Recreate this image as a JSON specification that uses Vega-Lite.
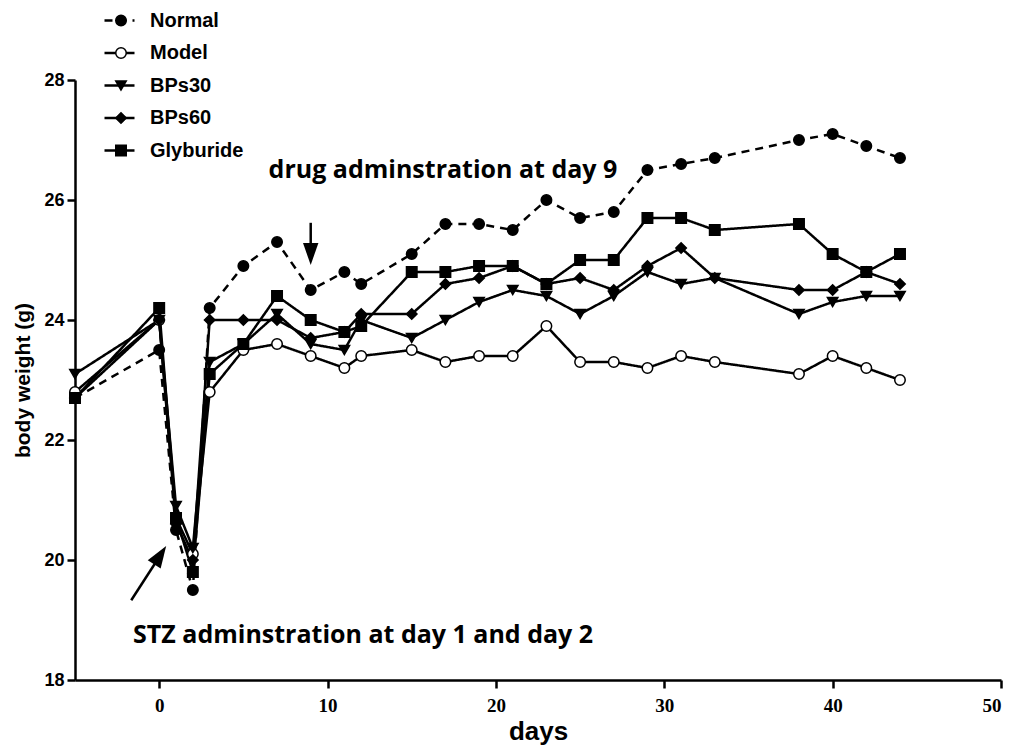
{
  "$schema": "https://vega.github.io/schema/vega-lite/v6.json",
  "width": 926,
  "height": 600,
  "autosize": {"type": "none"},
  "padding": {"left": 75, "top": 80, "right": 13, "bottom": 67},
  "background": "white",
  "config": {
    "view": {"stroke": null},
    "font": "Liberation Sans",
    "axis": {"grid": false, "domainColor": "black", "domainWidth": 2.5, "tickColor": "black", "tickWidth": 2.5, "tickSize": 8, "labelColor": "black", "titleColor": "black", "labelFontWeight": "bold", "titleFontWeight": "bold"},
    "axisX": {"labelFont": "Liberation Sans Narrow", "labelFontSize": 19, "labelPadding": 8, "titleFontSize": 26, "titlePadding": 3, "titleFont": "Liberation Sans"},
    "axisY": {"labelFont": "Liberation Sans", "labelFontSize": 18, "labelPadding": 3, "titleFontSize": 21, "titlePadding": 10, "titleFont": "Liberation Sans"}
  },
  "datasets": {
    "weights": [
      {"day": -5, "weight": 22.7, "group": "Normal"},
      {"day": 0, "weight": 23.5, "group": "Normal"},
      {"day": 1, "weight": 20.5, "group": "Normal"},
      {"day": 2, "weight": 19.5, "group": "Normal"},
      {"day": 3, "weight": 24.2, "group": "Normal"},
      {"day": 5, "weight": 24.9, "group": "Normal"},
      {"day": 7, "weight": 25.3, "group": "Normal"},
      {"day": 9, "weight": 24.5, "group": "Normal"},
      {"day": 11, "weight": 24.8, "group": "Normal"},
      {"day": 12, "weight": 24.6, "group": "Normal"},
      {"day": 15, "weight": 25.1, "group": "Normal"},
      {"day": 17, "weight": 25.6, "group": "Normal"},
      {"day": 19, "weight": 25.6, "group": "Normal"},
      {"day": 21, "weight": 25.5, "group": "Normal"},
      {"day": 23, "weight": 26.0, "group": "Normal"},
      {"day": 25, "weight": 25.7, "group": "Normal"},
      {"day": 27, "weight": 25.8, "group": "Normal"},
      {"day": 29, "weight": 26.5, "group": "Normal"},
      {"day": 31, "weight": 26.6, "group": "Normal"},
      {"day": 33, "weight": 26.7, "group": "Normal"},
      {"day": 38, "weight": 27.0, "group": "Normal"},
      {"day": 40, "weight": 27.1, "group": "Normal"},
      {"day": 42, "weight": 26.9, "group": "Normal"},
      {"day": 44, "weight": 26.7, "group": "Normal"},
      {"day": -5, "weight": 22.8, "group": "Model"},
      {"day": 0, "weight": 24.0, "group": "Model"},
      {"day": 1, "weight": 20.7, "group": "Model"},
      {"day": 2, "weight": 20.1, "group": "Model"},
      {"day": 3, "weight": 22.8, "group": "Model"},
      {"day": 5, "weight": 23.5, "group": "Model"},
      {"day": 7, "weight": 23.6, "group": "Model"},
      {"day": 9, "weight": 23.4, "group": "Model"},
      {"day": 11, "weight": 23.2, "group": "Model"},
      {"day": 12, "weight": 23.4, "group": "Model"},
      {"day": 15, "weight": 23.5, "group": "Model"},
      {"day": 17, "weight": 23.3, "group": "Model"},
      {"day": 19, "weight": 23.4, "group": "Model"},
      {"day": 21, "weight": 23.4, "group": "Model"},
      {"day": 23, "weight": 23.9, "group": "Model"},
      {"day": 25, "weight": 23.3, "group": "Model"},
      {"day": 27, "weight": 23.3, "group": "Model"},
      {"day": 29, "weight": 23.2, "group": "Model"},
      {"day": 31, "weight": 23.4, "group": "Model"},
      {"day": 33, "weight": 23.3, "group": "Model"},
      {"day": 38, "weight": 23.1, "group": "Model"},
      {"day": 40, "weight": 23.4, "group": "Model"},
      {"day": 42, "weight": 23.2, "group": "Model"},
      {"day": 44, "weight": 23.0, "group": "Model"},
      {"day": -5, "weight": 23.1, "group": "BPs30"},
      {"day": 0, "weight": 24.0, "group": "BPs30"},
      {"day": 1, "weight": 20.9, "group": "BPs30"},
      {"day": 2, "weight": 20.2, "group": "BPs30"},
      {"day": 3, "weight": 23.3, "group": "BPs30"},
      {"day": 5, "weight": 23.6, "group": "BPs30"},
      {"day": 7, "weight": 24.1, "group": "BPs30"},
      {"day": 9, "weight": 23.6, "group": "BPs30"},
      {"day": 11, "weight": 23.5, "group": "BPs30"},
      {"day": 12, "weight": 24.0, "group": "BPs30"},
      {"day": 15, "weight": 23.7, "group": "BPs30"},
      {"day": 17, "weight": 24.0, "group": "BPs30"},
      {"day": 19, "weight": 24.3, "group": "BPs30"},
      {"day": 21, "weight": 24.5, "group": "BPs30"},
      {"day": 23, "weight": 24.4, "group": "BPs30"},
      {"day": 25, "weight": 24.1, "group": "BPs30"},
      {"day": 27, "weight": 24.4, "group": "BPs30"},
      {"day": 29, "weight": 24.8, "group": "BPs30"},
      {"day": 31, "weight": 24.6, "group": "BPs30"},
      {"day": 33, "weight": 24.7, "group": "BPs30"},
      {"day": 38, "weight": 24.1, "group": "BPs30"},
      {"day": 40, "weight": 24.3, "group": "BPs30"},
      {"day": 42, "weight": 24.4, "group": "BPs30"},
      {"day": 44, "weight": 24.4, "group": "BPs30"},
      {"day": -5, "weight": 22.7, "group": "BPs60"},
      {"day": 0, "weight": 24.0, "group": "BPs60"},
      {"day": 1, "weight": 20.6, "group": "BPs60"},
      {"day": 2, "weight": 20.0, "group": "BPs60"},
      {"day": 3, "weight": 24.0, "group": "BPs60"},
      {"day": 5, "weight": 24.0, "group": "BPs60"},
      {"day": 7, "weight": 24.0, "group": "BPs60"},
      {"day": 9, "weight": 23.7, "group": "BPs60"},
      {"day": 11, "weight": 23.8, "group": "BPs60"},
      {"day": 12, "weight": 24.1, "group": "BPs60"},
      {"day": 15, "weight": 24.1, "group": "BPs60"},
      {"day": 17, "weight": 24.6, "group": "BPs60"},
      {"day": 19, "weight": 24.7, "group": "BPs60"},
      {"day": 21, "weight": 24.9, "group": "BPs60"},
      {"day": 23, "weight": 24.6, "group": "BPs60"},
      {"day": 25, "weight": 24.7, "group": "BPs60"},
      {"day": 27, "weight": 24.5, "group": "BPs60"},
      {"day": 29, "weight": 24.9, "group": "BPs60"},
      {"day": 31, "weight": 25.2, "group": "BPs60"},
      {"day": 33, "weight": 24.7, "group": "BPs60"},
      {"day": 38, "weight": 24.5, "group": "BPs60"},
      {"day": 40, "weight": 24.5, "group": "BPs60"},
      {"day": 42, "weight": 24.8, "group": "BPs60"},
      {"day": 44, "weight": 24.6, "group": "BPs60"},
      {"day": -5, "weight": 22.7, "group": "Glyburide"},
      {"day": 0, "weight": 24.2, "group": "Glyburide"},
      {"day": 1, "weight": 20.7, "group": "Glyburide"},
      {"day": 2, "weight": 19.8, "group": "Glyburide"},
      {"day": 3, "weight": 23.1, "group": "Glyburide"},
      {"day": 5, "weight": 23.6, "group": "Glyburide"},
      {"day": 7, "weight": 24.4, "group": "Glyburide"},
      {"day": 9, "weight": 24.0, "group": "Glyburide"},
      {"day": 11, "weight": 23.8, "group": "Glyburide"},
      {"day": 12, "weight": 23.9, "group": "Glyburide"},
      {"day": 15, "weight": 24.8, "group": "Glyburide"},
      {"day": 17, "weight": 24.8, "group": "Glyburide"},
      {"day": 19, "weight": 24.9, "group": "Glyburide"},
      {"day": 21, "weight": 24.9, "group": "Glyburide"},
      {"day": 23, "weight": 24.6, "group": "Glyburide"},
      {"day": 25, "weight": 25.0, "group": "Glyburide"},
      {"day": 27, "weight": 25.0, "group": "Glyburide"},
      {"day": 29, "weight": 25.7, "group": "Glyburide"},
      {"day": 31, "weight": 25.7, "group": "Glyburide"},
      {"day": 33, "weight": 25.5, "group": "Glyburide"},
      {"day": 38, "weight": 25.6, "group": "Glyburide"},
      {"day": 40, "weight": 25.1, "group": "Glyburide"},
      {"day": 42, "weight": 24.8, "group": "Glyburide"},
      {"day": 44, "weight": 25.1, "group": "Glyburide"}
    ]
  },
  "layer": [
    {
      "data": {"name": "weights"},
      "mark": {"type": "line", "color": "black", "strokeWidth": 2.5},
      "encoding": {
        "x": {"field": "day", "type": "quantitative", "scale": {"domain": [-5, 50], "nice": false, "zero": false},
          "axis": {"title": "days", "values": [0, 10, 20, 30, 40, 50], "format": "d"}},
        "y": {"field": "weight", "type": "quantitative", "scale": {"domain": [18, 28], "nice": false, "zero": false},
          "axis": {"title": "body weight (g)", "values": [18, 20, 22, 24, 26, 28], "format": "d"}},
        "detail": {"field": "group"},
        "strokeDash": {"field": "group", "type": "nominal", "sort": ["Normal", "Model", "BPs30", "BPs60", "Glyburide"],
          "scale": {"range": [[8, 6], [1, 0], [1, 0], [1, 0], [1, 0]]},
          "legend": {"orient": "none", "legendX": 28, "legendY": -68, "title": null, "padding": 0, "symbolType": "stroke", "symbolSize": 900, "symbolStrokeWidth": 2.5, "symbolStrokeColor": "black", "labelFontSize": 20, "labelFont": "Liberation Sans", "labelFontWeight": "bold", "labelColor": "black", "labelOffset": 14, "rowPadding": 11.5, "clipHeight": 17}}
      }
    },
    {
      "data": {"name": "weights"},
      "mark": {"type": "point", "filled": true, "strokeWidth": 1.5, "opacity": 1, "size": 110},
      "encoding": {
        "x": {"field": "day", "type": "quantitative"},
        "y": {"field": "weight", "type": "quantitative"},
        "shape": {"field": "group", "type": "nominal",
          "scale": {"domain": ["Normal", "Model", "BPs30", "BPs60", "Glyburide"], "range": ["circle", "circle", "triangle-down", "diamond", "square"]},
          "legend": {"orient": "none", "legendX": 28, "legendY": -68, "title": null, "padding": 0, "symbolSize": 110, "symbolStrokeWidth": 1.5, "symbolOpacity": 1, "symbolOffset": 8, "labelExpr": "''", "labelFontSize": 20, "rowPadding": 11.5, "clipHeight": 17}},
        "fill": {"field": "group", "type": "nominal",
          "scale": {"domain": ["Normal", "Model", "BPs30", "BPs60", "Glyburide"], "range": ["black", "white", "black", "black", "black"]},
          "legend": {"orient": "none", "legendX": 28, "legendY": -68, "title": null, "padding": 0, "symbolSize": 110, "symbolStrokeWidth": 1.5, "symbolOpacity": 1, "symbolOffset": 8, "labelExpr": "''", "labelFontSize": 20, "rowPadding": 11.5, "clipHeight": 17}},
        "stroke": {"field": "group", "type": "nominal",
          "scale": {"domain": ["Normal", "Model", "BPs30", "BPs60", "Glyburide"], "range": ["black", "black", "black", "black", "black"]},
          "legend": {"orient": "none", "legendX": 28, "legendY": -68, "title": null, "padding": 0, "symbolSize": 110, "symbolStrokeWidth": 1.5, "symbolOpacity": 1, "symbolOffset": 8, "labelExpr": "''", "labelFontSize": 20, "rowPadding": 11.5, "clipHeight": 17}}
      }
    },
    {
      "data": {"values": [
        {"day": 6.5, "weight": 26.5, "label": "drug adminstration at day 9"},
        {"day": -1.55, "weight": 18.75, "label": "STZ adminstration at day 1 and  day 2"}
      ]},
      "mark": {"type": "text", "font": "Open Sans", "fontWeight": "bold", "fontSize": 25, "align": "left", "baseline": "middle", "color": "black"},
      "encoding": {
        "x": {"field": "day", "type": "quantitative"},
        "y": {"field": "weight", "type": "quantitative"},
        "text": {"field": "label"}
      }
    },
    {
      "data": {"values": [
        {"day": 9, "weight": 25.62, "day2": 9, "weight2": 25.15},
        {"day": -1.66, "weight": 19.33, "day2": 0.0, "weight2": 20.05}
      ]},
      "mark": {"type": "rule", "color": "black", "strokeWidth": 2.5},
      "encoding": {
        "x": {"field": "day", "type": "quantitative"},
        "y": {"field": "weight", "type": "quantitative"},
        "x2": {"field": "day2"},
        "y2": {"field": "weight2"}
      }
    },
    {
      "data": {"values": [{"day": 9, "weight": 25.1}]},
      "mark": {"type": "point", "shape": "M -0.7 -1 L 0.7 -1 L 0 1 Z", "size": 484, "filled": true, "color": "black", "opacity": 1},
      "encoding": {
        "x": {"field": "day", "type": "quantitative"},
        "y": {"field": "weight", "type": "quantitative"}
      }
    },
    {
      "data": {"values": [{"day": 0.06, "weight": 20.08}]},
      "mark": {"type": "point", "shape": "M -0.7 1 L 0.7 1 L 0 -1 Z", "size": 484, "angle": 33, "filled": true, "color": "black", "opacity": 1},
      "encoding": {
        "x": {"field": "day", "type": "quantitative"},
        "y": {"field": "weight", "type": "quantitative"}
      }
    }
  ]
}
